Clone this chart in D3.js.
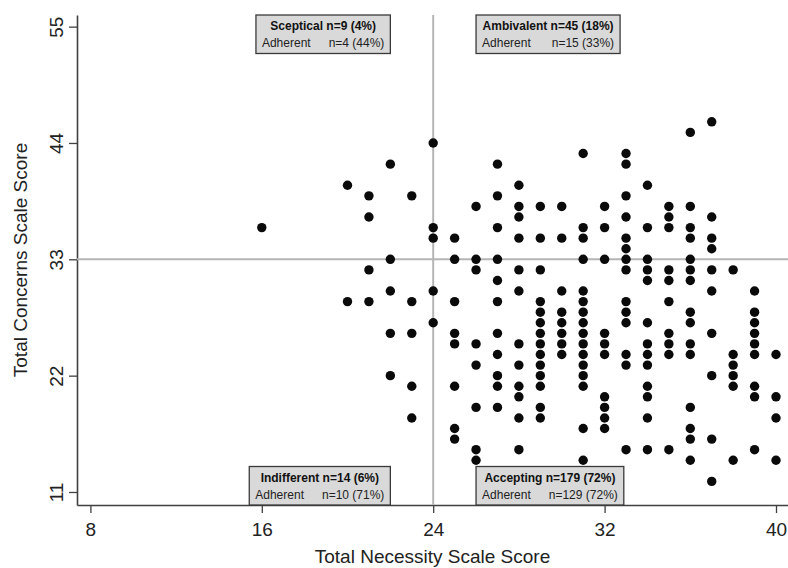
<!DOCTYPE html>
<html>
<head>
<meta charset="utf-8">
<script src="https://cdn.jsdelivr.net/npm/d3@7"></script>
<style>
  body { margin: 0; background: #fff; }
  text { font-family: "Liberation Sans", Arial, sans-serif; }
</style>
</head>
<body>
<div id="chart"></div>
<script>
// Necessity score columns and the concerns scores seen in each column
const necessityScores = [16, 20, 21, 22, 23, 24, 25, 26, 27, 28, 29, 30, 31, 32, 33, 34, 35, 36, 37, 38, 39, 40];
const concernsByNecessity = [
  [36],
  [40, 29],
  [39, 37, 32, 29],
  [42, 33, 30, 26, 22],
  [39, 29, 26, 21, 18],
  [44, 36, 35, 30, 27],
  [35, 33, 29, 26, 25, 21, 17, 16],
  [38, 33, 32, 25, 23, 19, 15, 14],
  [42, 39, 36, 33, 31, 29, 26, 24, 22, 21, 19],
  [40, 38, 37, 35, 32, 30, 25, 23, 21, 20, 18, 15],
  [38, 35, 32, 29, 28, 27, 26, 25, 24, 23, 22, 21, 19, 18],
  [38, 35, 30, 28, 27, 26, 25, 24],
  [43, 36, 35, 33, 30, 29, 28, 27, 26, 25, 24, 23, 22, 21, 17, 14],
  [38, 36, 33, 26, 25, 24, 20, 19, 18, 17],
  [43, 42, 39, 37, 35, 34, 33, 32, 29, 28, 27, 24, 23, 15],
  [40, 36, 33, 32, 31, 27, 25, 24, 23, 21, 20, 18, 15],
  [38, 37, 36, 32, 31, 29, 26, 25, 24, 15],
  [45, 38, 36, 35, 33, 32, 31, 28, 27, 25, 24, 19, 17, 16, 14],
  [46, 37, 35, 34, 32, 30, 26, 22, 16, 12],
  [32, 24, 23, 22, 21, 14],
  [30, 28, 27, 26, 25, 24, 21, 20, 15],
  [24, 20, 18, 14]
];

const xTicks = [8, 16, 24, 32, 40];
const yTicks = [11, 22, 33, 44, 55];
const necessityCut = 24;
const concernsCut = 33;

// quadrant summary boxes
const quadrantNames = ['Sceptical', 'Ambivalent', 'Indifferent', 'Accepting'];
const quadrantN = [9, 45, 14, 179];
const quadrantPct = [4, 18, 6, 72];
const adherentN = [4, 15, 10, 129];
const adherentPct = [44, 33, 71, 72];

const points = [];
necessityScores.forEach((n, i) => {
  concernsByNecessity[i].forEach(c => points.push({ x: n, y: c }));
});

const margin = { top: 15, right: 0, bottom: 63, left: 77 };
const width = 788 - margin.left - margin.right;
const height = 568 - margin.top - margin.bottom;

const svg = d3.select('#chart')
  .append('svg')
  .attr('width', 788)
  .attr('height', 568)
  .append('g')
  .attr('transform', `translate(${margin.left},${margin.top})`);

const xScale = d3.scaleLinear().domain([7.375, 40.56]).range([0, width]);
const yScale = d3.scaleLinear().domain([9.77, 56.1]).range([height, 0]);

const axisColor = '#404040';

// X axis
const xAxis = svg.append('g')
  .attr('transform', `translate(0,${height})`)
  .call(d3.axisBottom(xScale).tickValues(xTicks).tickSize(8).tickSizeOuter(0).tickPadding(10));
xAxis.select('.domain').attr('stroke', axisColor).attr('stroke-width', 1.6);
xAxis.selectAll('.tick line').attr('stroke', axisColor).attr('stroke-width', 1.3);
xAxis.selectAll('text')
  .attr('fill', '#222')
  .style('font-size', '19px');

// Y axis, labels turned to read upward
const yAxis = svg.append('g')
  .call(d3.axisLeft(yScale).tickValues(yTicks).tickSize(8).tickSizeOuter(0));
yAxis.select('.domain').attr('stroke', axisColor).attr('stroke-width', 1.6);
yAxis.selectAll('.tick line').attr('stroke', axisColor).attr('stroke-width', 1.3);
yAxis.selectAll('text')
  .attr('x', 0)
  .attr('y', 0)
  .attr('dy', '0.35em')
  .attr('text-anchor', 'middle')
  .attr('transform', 'translate(-21,0) rotate(-90)')
  .attr('fill', '#222')
  .style('font-size', '19px');

// Axis titles
svg.append('text')
  .attr('x', width / 2)
  .attr('y', height + 58)
  .attr('text-anchor', 'middle')
  .attr('fill', '#222')
  .style('font-size', '19px')
  .text('Total Necessity Scale Score');

svg.append('text')
  .attr('transform', `translate(${-50},${height / 2}) rotate(-90)`)
  .attr('text-anchor', 'middle')
  .attr('fill', '#222')
  .style('font-size', '19px')
  .text('Total Concerns Scale Score');

// Cut-off lines
svg.append('line')
  .attr('x1', xScale(necessityCut)).attr('x2', xScale(necessityCut))
  .attr('y1', yScale.range()[0]).attr('y2', yScale.range()[1])
  .attr('stroke', '#b5b5b5').attr('stroke-width', 2);
svg.append('line')
  .attr('x1', xScale.range()[0]).attr('x2', xScale.range()[1])
  .attr('y1', yScale(concernsCut)).attr('y2', yScale(concernsCut))
  .attr('stroke', '#b5b5b5').attr('stroke-width', 2);

// Dots
svg.selectAll('.dot')
  .data(points)
  .enter()
  .append('circle')
  .attr('class', 'dot')
  .attr('cx', d => xScale(d.x))
  .attr('cy', d => yScale(d.y))
  .attr('r', 4.7)
  .attr('fill', '#0a0a0a');

// Quadrant boxes: left ones end at necessity 22, right ones start at 26
const boxH = 38.5;
quadrantNames.forEach((name, i) => {
  const isLeft = i === 0 || i === 2;
  const isTop = i < 2;
  const g = svg.append('g');
  const rect = g.append('rect')
    .attr('fill', '#d9d9d9')
    .attr('stroke', '#3a3a3a')
    .attr('stroke-width', 1.3);
  const t1 = g.append('text')
    .style('font-size', '12px')
    .style('font-weight', 'bold')
    .attr('fill', '#111')
    .attr('text-anchor', 'middle')
    .text(`${name} n=${quadrantN[i]} (${quadrantPct[i]}%)`);
  const a = g.append('text')
    .style('font-size', '12px')
    .attr('fill', '#222')
    .text('Adherent');
  const b = g.append('text')
    .style('font-size', '12px')
    .attr('fill', '#222')
    .attr('text-anchor', 'end')
    .text(`n=${adherentN[i]} (${adherentPct[i]}%)`);

  const w1 = t1.node().getComputedTextLength();
  const w2 = a.node().getComputedTextLength() + 17 + b.node().getComputedTextLength();
  const boxW = Math.max(w1, w2) + 13;
  const x0 = isLeft ? xScale(22) - boxW : xScale(26);
  const y0 = isTop ? yScale.range()[1] : yScale.range()[0] - boxH;

  rect.attr('x', x0).attr('y', y0).attr('width', boxW).attr('height', boxH);
  t1.attr('x', x0 + boxW / 2).attr('y', y0 + 15);
  a.attr('x', x0 + 6).attr('y', y0 + 32);
  b.attr('x', x0 + boxW - 6).attr('y', y0 + 32);
});
</script>
</body>
</html>
